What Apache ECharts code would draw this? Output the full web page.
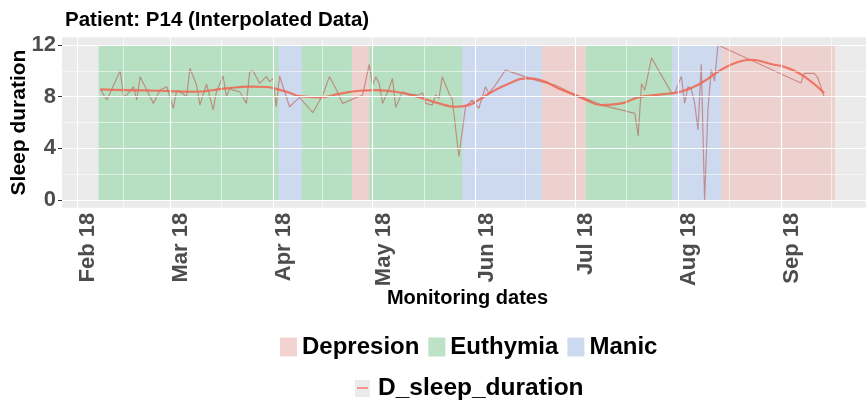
<!DOCTYPE html>
<html>
<head>
<meta charset="utf-8">
<script src="https://cdn.jsdelivr.net/npm/echarts@6/dist/echarts.min.js"></script>
<style>
  html, body { margin: 0; padding: 0; background: #ffffff; }
  #chart { width: 866px; height: 406px; }
</style>
</head>
<body>
<div id="chart"></div>
<script>
// ---- axis breaks ----
const monthTicks = ['2018-02-01', '2018-03-01', '2018-04-01', '2018-05-01', '2018-06-01', '2018-07-01', '2018-08-01', '2018-09-01'];
const tickLabels = ['Feb 18', 'Mar 18', 'Apr 18', 'May 18', 'Jun 18', 'Jul 18', 'Aug 18', 'Sep 18'];
const minorTicks = ['2018-02-15', '2018-03-16 12:00', '2018-04-16', '2018-05-16 12:00', '2018-06-16', '2018-07-16 12:00', '2018-08-16 12:00', '2018-09-16'];
const yTicks = [0, 4, 8, 12];
const yMinor = [2, 6, 10];

// ---- mood phases ----
const phaseNames = ['Depresion', 'Euthymia', 'Manic'];
const phaseType  = ['Euthymia', 'Manic', 'Euthymia', 'Depresion', 'Euthymia', 'Manic', 'Depresion', 'Euthymia', 'Manic', 'Depresion'];
const phaseStart = ['2018-02-07 12:00', '2018-04-02 18:00', '2018-04-09 18:00', '2018-04-24 18:00', '2018-04-30 00:00', '2018-05-28 00:00', '2018-06-21 00:00', '2018-07-04 06:00', '2018-07-30 06:00', '2018-08-14 00:00'];
const phaseEnd   = ['2018-04-02 18:00', '2018-04-09 18:00', '2018-04-24 18:00', '2018-04-30 00:00', '2018-05-28 00:00', '2018-06-21 00:00', '2018-07-04 06:00', '2018-07-30 06:00', '2018-08-14 00:00', '2018-09-17 06:00'];

// ---- daily sleep duration (hours) ----
const sleepDates = [
  '2018-02-08', '2018-02-10', '2018-02-14', '2018-02-15', '2018-02-16', '2018-02-18', '2018-02-19', '2018-02-20',
  '2018-02-22', '2018-02-24', '2018-02-26', '2018-02-28', '2018-03-02', '2018-03-03', '2018-03-04', '2018-03-06',
  '2018-03-07', '2018-03-09', '2018-03-10', '2018-03-12', '2018-03-14', '2018-03-15', '2018-03-17', '2018-03-18',
  '2018-03-19', '2018-03-20', '2018-03-22', '2018-03-24', '2018-03-25', '2018-03-26', '2018-03-28', '2018-03-30',
  '2018-03-31', '2018-04-01', '2018-04-02', '2018-04-03', '2018-04-06', '2018-04-09', '2018-04-13', '2018-04-16',
  '2018-04-18', '2018-04-20', '2018-04-22', '2018-04-28', '2018-04-30', '2018-05-01', '2018-05-02', '2018-05-03',
  '2018-05-04', '2018-05-06', '2018-05-07', '2018-05-08', '2018-05-10', '2018-05-12', '2018-05-15', '2018-05-16',
  '2018-05-17', '2018-05-19', '2018-05-20', '2018-05-21', '2018-05-22', '2018-05-24', '2018-05-25', '2018-05-27',
  '2018-05-29', '2018-05-31', '2018-06-02', '2018-06-04', '2018-06-05', '2018-06-07', '2018-06-10', '2018-06-20',
  '2018-06-25', '2018-06-29', '2018-07-04', '2018-07-09', '2018-07-19', '2018-07-20', '2018-07-21', '2018-07-22',
  '2018-07-24', '2018-07-30', '2018-07-31', '2018-08-02', '2018-08-03', '2018-08-04', '2018-08-05', '2018-08-06',
  '2018-08-07', '2018-08-08', '2018-08-09', '2018-08-10', '2018-08-11', '2018-08-12', '2018-08-13', '2018-09-07',
  '2018-09-08', '2018-09-11', '2018-09-12', '2018-09-14'
];
const sleepValues = [
  8.57, 7.74, 10.0, 8.05, 8.13, 8.77, 7.74, 9.55,
  8.51, 7.48, 8.51, 8.77, 7.1, 8.46, 8.4, 8.0,
  10.2, 8.9, 7.35, 8.98, 6.97, 8.38, 9.6, 8.0,
  8.64, 8.5, 8.38, 7.48, 9.93, 10.0, 9.03, 9.55,
  9.16, 9.42, 7.22, 9.6, 7.22, 7.95, 6.76, 8.13,
  9.55, 8.6, 7.48, 8.13, 10.5, 8.9, 9.55, 9.03,
  7.48, 8.64, 9.42, 7.17, 8.38, 8.2, 8.13, 8.3,
  7.48, 7.35, 8.13, 7.87, 9.55, 8.26, 7.8, 3.35,
  7.22, 7.74, 7.1, 8.77, 8.26, 8.9, 10.06, 9.2,
  8.9, 8.4, 7.87, 7.35, 6.71, 4.95, 9.0, 8.5,
  11.0, 8.3, 8.28, 9.57, 7.5, 8.8, 8.54, 7.5,
  5.44, 10.5, 0.0, 7.0, 10.1, 9.2, 12.0, 9.06,
  9.8, 9.8, 9.5, 8.0
];

// ---- smoothed trend ----
const trendDates = [
  '2018-02-08', '2018-02-16', '2018-02-26', '2018-03-08', '2018-03-18', '2018-03-25', '2018-03-30', '2018-04-02',
  '2018-04-06', '2018-04-09', '2018-04-15', '2018-04-21', '2018-04-27', '2018-05-02', '2018-05-08', '2018-05-15',
  '2018-05-21', '2018-05-26', '2018-05-30', '2018-06-02', '2018-06-06', '2018-06-11', '2018-06-16', '2018-06-21',
  '2018-06-26', '2018-07-04', '2018-07-09', '2018-07-15', '2018-07-20', '2018-07-27', '2018-08-02', '2018-08-08',
  '2018-08-14', '2018-08-19', '2018-08-23', '2018-08-29', '2018-09-03', '2018-09-08', '2018-09-14'
];
const trendValues = [
  8.57, 8.5, 8.46, 8.38, 8.64, 8.77, 8.75, 8.6,
  8.3, 8.05, 7.95, 8.22, 8.46, 8.51, 8.38, 7.95,
  7.48, 7.22, 7.35, 7.75, 8.38, 9.0, 9.42, 9.25,
  8.64, 7.79, 7.35, 7.48, 7.95, 8.18, 8.4, 9.06,
  10.09, 10.68, 10.86, 10.53, 10.22, 9.57, 8.28
];

// local-time parser for 'YYYY-MM-DD[ HH:mm]'
function ts(s) {
  const parts = s.split(' ');
  const d = parts[0].split('-').map(Number);
  let h = 0, mi = 0;
  if (parts[1]) { const t = parts[1].split(':').map(Number); h = t[0]; mi = t[1]; }
  return new Date(d[0], d[1] - 1, d[2], h, mi).getTime();
}

const FONT = 'Liberation Sans, Arial, Helvetica, sans-serif';
const phaseFill = {
  'Depresion': 'rgba(248,118,109,0.22)',
  'Euthymia':  'rgba(0,186,56,0.22)',
  'Manic':     'rgba(97,156,255,0.22)'
};
const phaseKey = { 'Depresion': '#F2D3D2', 'Euthymia': '#BEE2C8', 'Manic': '#CCDAF0' };

const monthTs = monthTicks.map(ts);
const xMin = ts('2018-01-27 11:30');
const xMax = ts('2018-09-28 17:00');

// panel grid lines
const gridLines = [];
monthTicks.forEach(d => gridLines.push({ xAxis: ts(d), lineStyle: { color: '#ffffff', width: 1.1, type: 'solid' } }));
minorTicks.forEach(d => gridLines.push({ xAxis: ts(d), lineStyle: { color: '#ffffff', width: 0.55, type: 'solid' } }));
yTicks.forEach(v => gridLines.push({ yAxis: v, lineStyle: { color: '#ffffff', width: 1.1, type: 'solid' } }));
yMinor.forEach(v => gridLines.push({ yAxis: v, lineStyle: { color: '#ffffff', width: 0.55, type: 'solid' } }));

// one band series per phase
const bandSeries = phaseNames.map(name => ({
  name: name,
  type: 'line',
  data: [],
  z: 2,
  color: phaseKey[name],
  markArea: {
    silent: true,
    itemStyle: { color: phaseFill[name] },
    data: phaseType.map((p, i) => p === name ? [{ xAxis: ts(phaseStart[i]), yAxis: 0 }, { xAxis: ts(phaseEnd[i]), yAxis: 12 }] : null).filter(Boolean)
  }
}));

const chart = echarts.init(document.getElementById('chart'), null, { renderer: 'canvas' });
chart.setOption({
  animation: false,
  backgroundColor: '#ffffff',
  title: {
    text: 'Patient: P14 (Interpolated Data)',
    left: 60, top: 5,
    textStyle: { fontFamily: FONT, fontSize: 20.5, fontWeight: 'bold', color: '#000000' }
  },
  grid: {
    left: 62, top: 37.25, width: 811, height: 170.5,
    containLabel: false, outerBoundsMode: 'none',
    show: true, backgroundColor: '#EBEBEB', borderWidth: 0
  },
  xAxis: {
    type: 'value', min: xMin, max: xMax,
    name: 'Monitoring dates', nameLocation: 'middle', nameGap: 81, nameMoveOverlap: false,
    nameTextStyle: { fontFamily: FONT, fontSize: 20, fontWeight: 'bold', color: '#000000' },
    axisLine: { show: false },
    splitLine: { show: false },
    axisTick: { show: true, length: 4, lineStyle: { color: '#333333', width: 1 }, customValues: monthTs },
    axisLabel: {
      customValues: monthTs,
      rotate: 90, margin: 5, verticalAlign: 'top',
      fontFamily: FONT, fontSize: 22, fontWeight: 'bold', color: '#4D4D4D',
      formatter: v => { const i = monthTs.indexOf(v); return i >= 0 ? tickLabels[i] : ''; }
    }
  },
  yAxis: {
    type: 'value', min: -0.6, max: 12.6,
    name: 'Sleep duration', nameLocation: 'middle', nameGap: 32, nameRotate: 90, nameMoveOverlap: false,
    nameTextStyle: { fontFamily: FONT, fontSize: 21, fontWeight: 'bold', color: '#000000' },
    axisLine: { show: false },
    splitLine: { show: false },
    axisTick: { show: true, length: 4, lineStyle: { color: '#333333', width: 1 }, customValues: yTicks },
    axisLabel: {
      customValues: yTicks, margin: 6,
      fontFamily: FONT, fontSize: 22, fontWeight: 'bold', color: '#4D4D4D'
    }
  },
  legend: [
    {
      data: phaseNames,
      left: 280, top: 335, padding: 0,
      icon: 'rect', itemWidth: 17, itemHeight: 19, itemGap: 9,
      selectedMode: false,
      textStyle: { fontFamily: FONT, fontSize: 24, fontWeight: 'bold', color: '#000000' }
    },
    {
      data: [{ name: 'D_sleep_duration', icon: 'rect', itemStyle: { color: '#EBEBEB' } }],
      left: 355, top: 376, padding: 0,
      itemWidth: 15, itemHeight: 17,
      selectedMode: false,
      textStyle: { fontFamily: FONT, fontSize: 24.5, fontWeight: 'bold', color: '#000000', padding: [0, 0, 0, 3] }
    }
  ],
  graphic: [
    { type: 'line', z: 100, shape: { x1: 357, y1: 388, x2: 368, y2: 388 }, style: { stroke: '#F8766D', lineWidth: 1.5 } }
  ],
  series: [
    {
      name: 'panel-grid', type: 'line', data: [], z: 1,
      markLine: { silent: true, symbol: ['none', 'none'], label: { show: false }, data: gridLines }
    },
    ...bandSeries,
    {
      name: 'D_sleep_duration', type: 'line', z: 3,
      data: sleepDates.map((d, i) => [ts(d), sleepValues[i]]),
      showSymbol: false, symbol: 'none',
      color: '#F8766D',
      lineStyle: { color: 'rgba(185,95,85,0.62)', width: 1.2 }
    },
    {
      name: 'trend', type: 'line', z: 4,
      data: trendDates.map((d, i) => [ts(d), trendValues[i]]),
      showSymbol: false, symbol: 'none', smooth: 0.5,
      lineStyle: { color: 'rgba(240,100,80,0.85)', width: 2.2 }
    }
  ]
});
</script>
</body>
</html>
